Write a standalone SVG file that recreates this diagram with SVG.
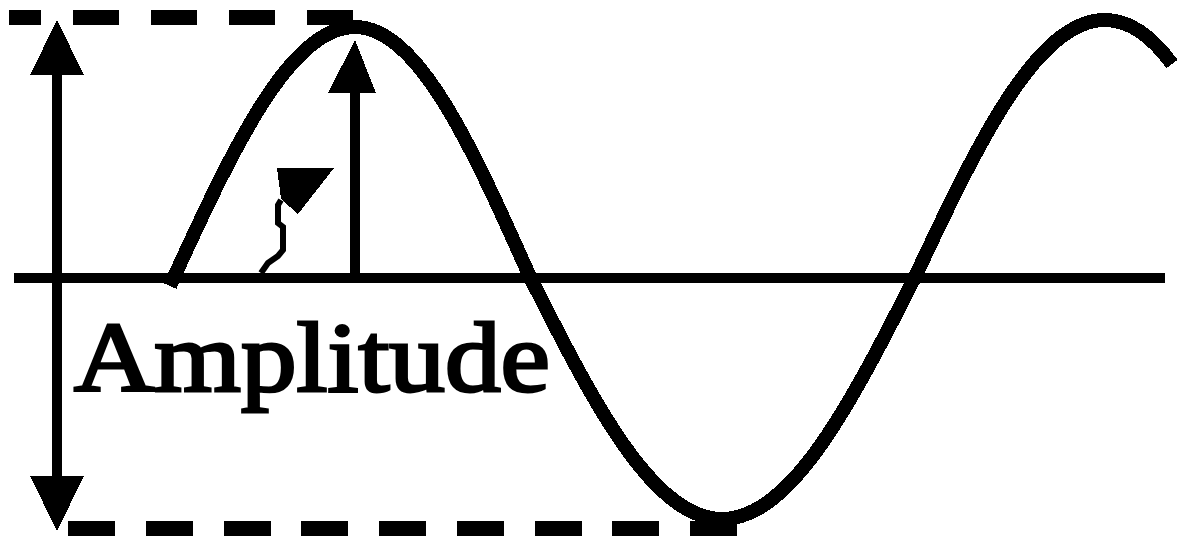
<svg xmlns="http://www.w3.org/2000/svg" width="1188" height="538" viewBox="0 0 1188 538">
<style>
.ln{stroke:#000;fill:none;shape-rendering:crispEdges}
.ptr{stroke:#000;fill:none;stroke-linejoin:miter}
.dash{stroke:#000;stroke-width:15;fill:none;shape-rendering:crispEdges}
.head{fill:#000;stroke:none;shape-rendering:crispEdges}
.lbl{font-family:"Liberation Serif","Times New Roman",serif;font-weight:normal;font-size:100px;fill:#000;stroke:#000;stroke-width:3}
</style>
<rect width="1188" height="538" fill="#fff"/>
<g id="guides">
<line class="dash" x1="9" y1="17.5" x2="355" y2="17.5" stroke-dasharray="46 32" stroke-dashoffset="14"/>
<line class="dash" x1="68" y1="528.5" x2="737" y2="528.5" stroke-dasharray="47 30.75"/>
</g>
<g id="axis">
<line class="ln" x1="14" y1="277.5" x2="1165" y2="277.5" stroke-width="10"/>
</g>
<g id="wave">
<path class="ln" stroke-width="14" d="M170,286 L174,277 C233,148.9 289.5,27 355,27 C418.3,27 472.9,148.9 530,277 C592.6,401 652.5,519 722,519 C791.9,519 852.1,401 915,277 C977,145.3 1036.2,20 1105,20 Q1140,20 1172,64"/>
</g>
<g id="connectors">
<g id="amplitude-span">
<line class="ln" x1="57" y1="70" x2="57" y2="480" stroke-width="10"/>
<polygon class="head" points="57,20 84,75 30,75"/>
<polygon class="head" points="57,531 84,476 30,476"/>
</g>
<g id="peak-arrow">
<line class="ln" x1="355" y1="282" x2="355" y2="88" stroke-width="10"/>
<polygon class="head" points="355,40 376,93 328,93"/>
</g>
<g id="pointer">
<path class="ptr" stroke-width="6" d="M281,200 L278,205 L278,223 L283,227 L283,250 L278,256 L268,263 L261,273"/>
<polygon class="head" points="277,168 334,168 298,214 281,199"/>
</g>
</g>
<g id="label">
<text class="lbl" x="74" y="391" textLength="476" lengthAdjust="spacingAndGlyphs">Amplitude</text>
</g>
</svg>
